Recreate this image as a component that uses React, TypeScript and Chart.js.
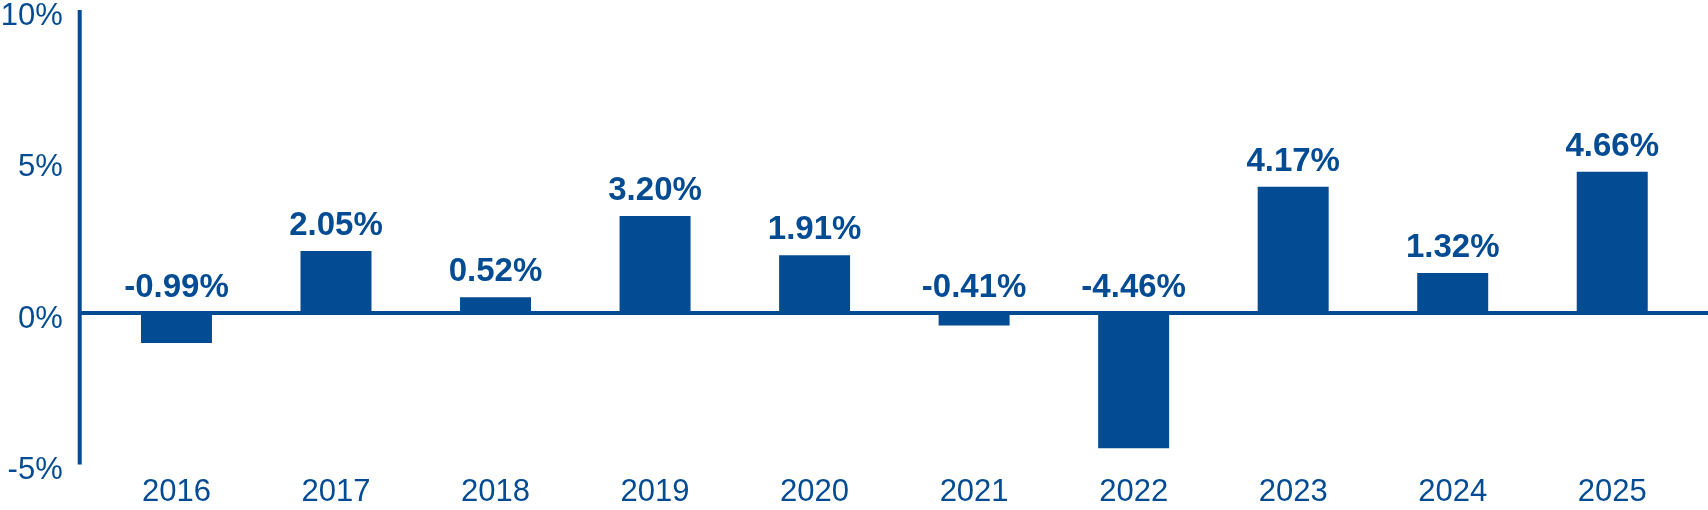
import { useEffect, useRef } from 'react';
import { Chart, registerables } from 'chart.js';

Chart.register(...registerables);

const years = ['2016', '2017', '2018', '2019', '2020', '2021', '2022', '2023', '2024', '2025'];
const returns = [-0.99, 2.05, 0.52, 3.2, 1.91, -0.41, -4.46, 4.17, 1.32, 4.66];
const yTicks = [-5, 0, 5, 10];

const BLUE = '#034b92';
const FONT = '"Liberation Sans", Arial, Helvetica, sans-serif';

// axis line on the left and the zero line across the whole width
const axisLines = {
  id: 'axisLines',
  afterDatasetsDraw(chart: Chart) {
    const { ctx, chartArea, scales } = chart;
    const y = scales.y;
    const axisX = chartArea.left - 17;
    const zero = y.getPixelForValue(0);
    ctx.save();
    ctx.strokeStyle = BLUE;
    ctx.lineWidth = 4;
    ctx.beginPath();
    ctx.moveTo(axisX, y.getPixelForValue(10));
    ctx.lineTo(axisX, y.getPixelForValue(-5));
    ctx.moveTo(axisX, zero);
    ctx.lineTo(chart.width, zero);
    ctx.stroke();
    ctx.restore();
  }
};

// value labels above each bar (or above the zero line for negatives)
const valueLabels = {
  id: 'valueLabels',
  afterDatasetsDraw(chart: Chart) {
    const { ctx, scales } = chart;
    const meta = chart.getDatasetMeta(0);
    ctx.save();
    ctx.fillStyle = BLUE;
    ctx.font = `bold 33px ${FONT}`;
    ctx.textAlign = 'center';
    ctx.textBaseline = 'alphabetic';
    meta.data.forEach((bar, i) => {
      const v = returns[i];
      const top = scales.y.getPixelForValue(Math.max(v, 0));
      ctx.fillText(v.toFixed(2) + '%', bar.x, top - 16);
    });
    ctx.restore();
  }
};

export default function App() {
  const canvasRef = useRef<HTMLCanvasElement>(null);

  useEffect(() => {
    const canvas = canvasRef.current;
    if (!canvas) return;

    const chart = new Chart(canvas, {
      type: 'bar',
      data: {
        labels: years,
        datasets: [
          {
            data: returns,
            backgroundColor: BLUE,
            borderWidth: 0,
            barPercentage: 0.445,
            categoryPercentage: 1
          }
        ]
      },
      options: {
        animation: false,
        responsive: false,
        devicePixelRatio: 1,
        layout: { padding: { top: 10, right: 16, left: 0, bottom: 0 } },
        plugins: {
          legend: { display: false },
          tooltip: { enabled: false }
        },
        scales: {
          x: {
            grid: { display: false, drawTicks: false },
            border: { display: false },
            ticks: {
              color: BLUE,
              font: { family: FONT, size: 31 },
              padding: 9
            },
            afterFit(scale: any) {
              scale.height = 45.5;
            }
          },
          y: {
            min: -5,
            max: 10,
            grid: { display: false, drawTicks: true, tickLength: 34 },
            border: { display: false },
            afterBuildTicks(scale: any) {
              scale.ticks = yTicks.map((v) => ({ value: v }));
            },
            ticks: {
              color: BLUE,
              font: { family: FONT, size: 31, lineHeight: 0.5 },
              padding: 0,
              labelOffset: 6,
              callback: (v: any) => v + '%'
            },
            afterFit(scale: any) {
              scale.width = 96.7;
            }
          }
        }
      },
      plugins: [axisLines, valueLabels]
    });

    return () => chart.destroy();
  }, []);

  return (
    <div style={{ position: 'fixed', left: 0, top: 0, width: 1708, height: 510, background: '#fff' }}>
      <canvas ref={canvasRef} width={1708} height={510} />
    </div>
  );
}
